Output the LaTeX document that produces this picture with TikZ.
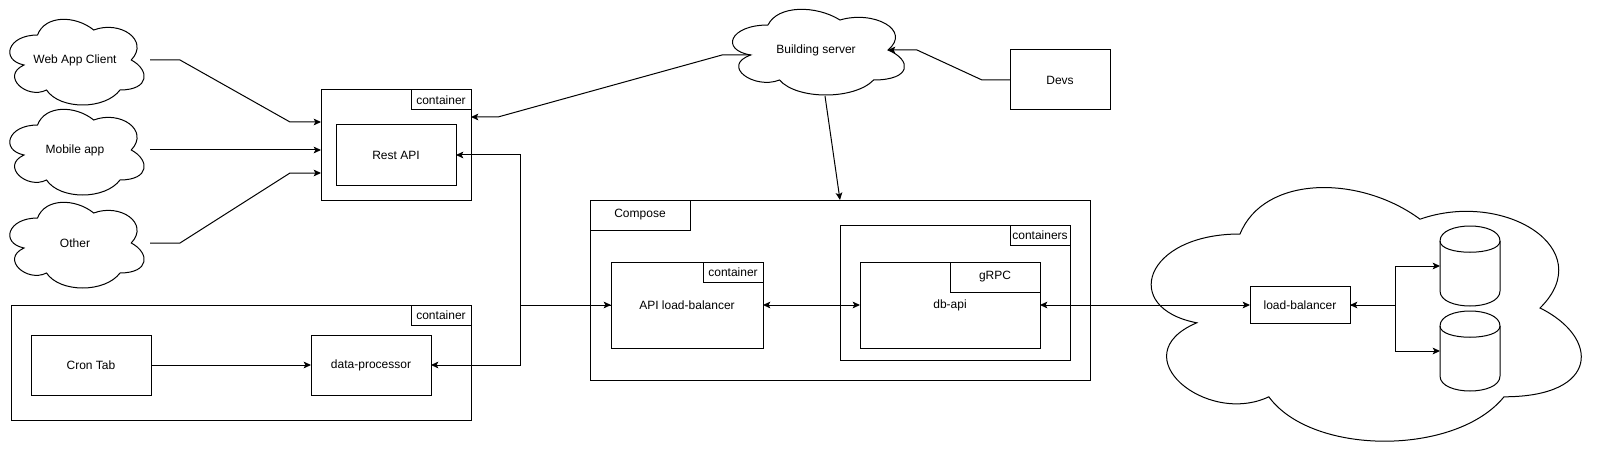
\documentclass[tikz,border=0pt]{standalone}
\usepackage{fontspec}
\setmainfont{Liberation Sans}
\usetikzlibrary{arrows.meta,calc}
\newcommand{\mycloud}[4]{%
  \begin{scope}[shift={(#1,#2)},xscale=#3,yscale=#4]
    \draw[dline,fill=white] (0.25,0.25) .. controls (0.05,0.25) and (0,0.5) .. (0.16,0.55)
      .. controls (0,0.66) and (0.18,0.9) .. (0.31,0.8)
      .. controls (0.4,1) and (0.7,1) .. (0.8,0.8)
      .. controls (1,0.8) and (1,0.6) .. (0.875,0.5)
      .. controls (1,0.3) and (0.8,0.1) .. (0.625,0.2)
      .. controls (0.5,0.05) and (0.3,0.05) .. (0.25,0.25) -- cycle;
  \end{scope}}
\newcommand{\mycyl}[2]{%
  \begin{scope}[shift={(#1,#2)}]
    \draw[dline,fill=white] (0,15) .. controls (0,-5) and (60,-5) .. (60,15) -- (60,65)
      .. controls (60,85) and (0,85) .. (0,65) -- cycle;
    \draw[dline] (0,15) .. controls (0,30) and (60,30) .. (60,15);
  \end{scope}}
\tikzset{
  dline/.style={line width=0.75pt,black},
  dsz/.style 2 args={minimum width=#1*0.75pt,minimum height=#2*0.75pt},
  dtext/.style={font=\fontsize{9pt}{10.8pt}\selectfont,inner sep=0pt,outer sep=0pt},
  dbox/.style={dtext,draw,dline,fill=white,rectangle},
  dghost/.style={dtext,rectangle},
  darr/.style={line width=0.75pt,-{Stealth[length=5.5pt,width=5pt,inset=1.3pt]}},
  dbiarr/.style={line width=0.75pt,{Stealth[length=5.5pt,width=5pt,inset=1.3pt]}-{Stealth[length=5.5pt,width=5pt,inset=1.3pt]}},
}
\begin{document}
\begin{tikzpicture}[x=0.75pt,y=-0.75pt]
\useasboundingbox (0,0) rectangle (1601,456);
% clouds
\mycloud{0}{10}{150}{100}
\node[dghost,dsz={150}{100}] (web) at (75,60) {Web App Client};
\mycloud{0}{100}{150}{100}
\node[dghost,dsz={150}{100}] (mob) at (75,150) {Mobile app};
\mycloud{0}{193}{150}{100}
\node[dghost,dsz={150}{100}] (oth) at (75,243) {Other};
\mycloud{720}{0}{192}{100}
\node[dghost,dsz={192}{100}] (bs) at (816,50) {Building server};
\mycloud{1120}{160}{480}{296}
\node[dghost,dsz={480}{296}] (bigc) at (1360,308) {};
% rest api container
\node[dbox,dsz={150}{110}] (restc) at (396,145) {};
\node[dbox,dsz={60}{20}] (restct) at (441,100) {container};
\node[dbox,dsz={120}{60}] (restapi) at (396,155) {Rest API};
% bottom container
\node[dbox,dsz={460}{115}] (botc) at (241,362.5) {};
\node[dbox,dsz={60}{20}] (botct) at (441,315) {container};
\node[dbox,dsz={120}{60}] (cron) at (91,365) {Cron Tab};
\node[dbox,dsz={120}{60}] (dp) at (371,365) {data-processor};
% devs
\node[dbox,dsz={100}{60}] (devs) at (1060,80) {Devs};
% compose
\node[dbox,dsz={500}{180}] (compose) at (840,290) {};
\node[dbox,dsz={100}{30}] (composet) at (640,215) {Compose};
\node[dbox,dsz={152}{86}] (apilb) at (687,305) {API load-balancer};
\node[dbox,dsz={60}{20}] (apilbt) at (733,272) {container};
\node[dbox,dsz={230}{135}] (ctrs) at (955,292.5) {};
\node[dbox,dsz={60}{20}] (ctrst) at (1040,235) {containers};
\node[dbox,dsz={180}{86}] (dbapi) at (950,305) {db-api};
\node[dbox,dsz={90}{30}] (grpc) at (995,277) {gRPC};
% cloud content
\node[dbox,dsz={100}{37}] (lb) at (1300,305) {load-balancer};
\mycyl{1440}{226}
\node[dghost,dsz={60}{80}] (cyl1) at (1470,266) {};
\mycyl{1440}{311}
\node[dghost,dsz={60}{80}] (cyl2) at (1470,351) {};
% waypoints
\coordinate (wa1) at (180,60);
\coordinate (wa2) at (290,122);
\coordinate (ot1) at (180,243);
\coordinate (ot2) at (290,173);
\coordinate (bs1) at (722,55);
\coordinate (bs2) at (498,117);
\coordinate (dv1) at (982,80);
\coordinate (dv2) at (917,50);
\coordinate (j1) at (520,305);
\coordinate (k1) at (1395,305);
% connectors
\draw[darr] (web.east) -- (wa1) -- (wa2) -- (wa2 -| restc.west);
\draw[darr] (mob.east) -- (mob.east -| restc.west);
\draw[darr] (oth.east) -- (ot1) -- (ot2) -- (ot2 -| restc.west);
\draw[darr] ($(bs.west)+(30.7,5)$) -- (bs1) -- (bs2) -- (bs2 -| restc.east);
\draw[darr] (devs.west) -- (dv1) -- (dv2) -- ($(bs.east)+(-24,0)$);
\draw[darr] ($(bs.south)+(9,-4)$) -- (compose.north);
\draw[dbiarr] (apilb.west) -- (j1) |- (restapi.east);
\draw[darr] (apilb.west) -- (j1) |- (dp.east);
\draw[darr] (cron.east) -- (dp.west);
\draw[dbiarr] (apilb.east) -- (dbapi.west);
\draw[dbiarr] (dbapi.east) -- (lb.west);
\draw[dbiarr] (lb.east) -- (k1) |- (cyl1.west);
\draw[darr] (lb.east) -- (k1) |- (cyl2.west);
\end{tikzpicture}
\end{document}
